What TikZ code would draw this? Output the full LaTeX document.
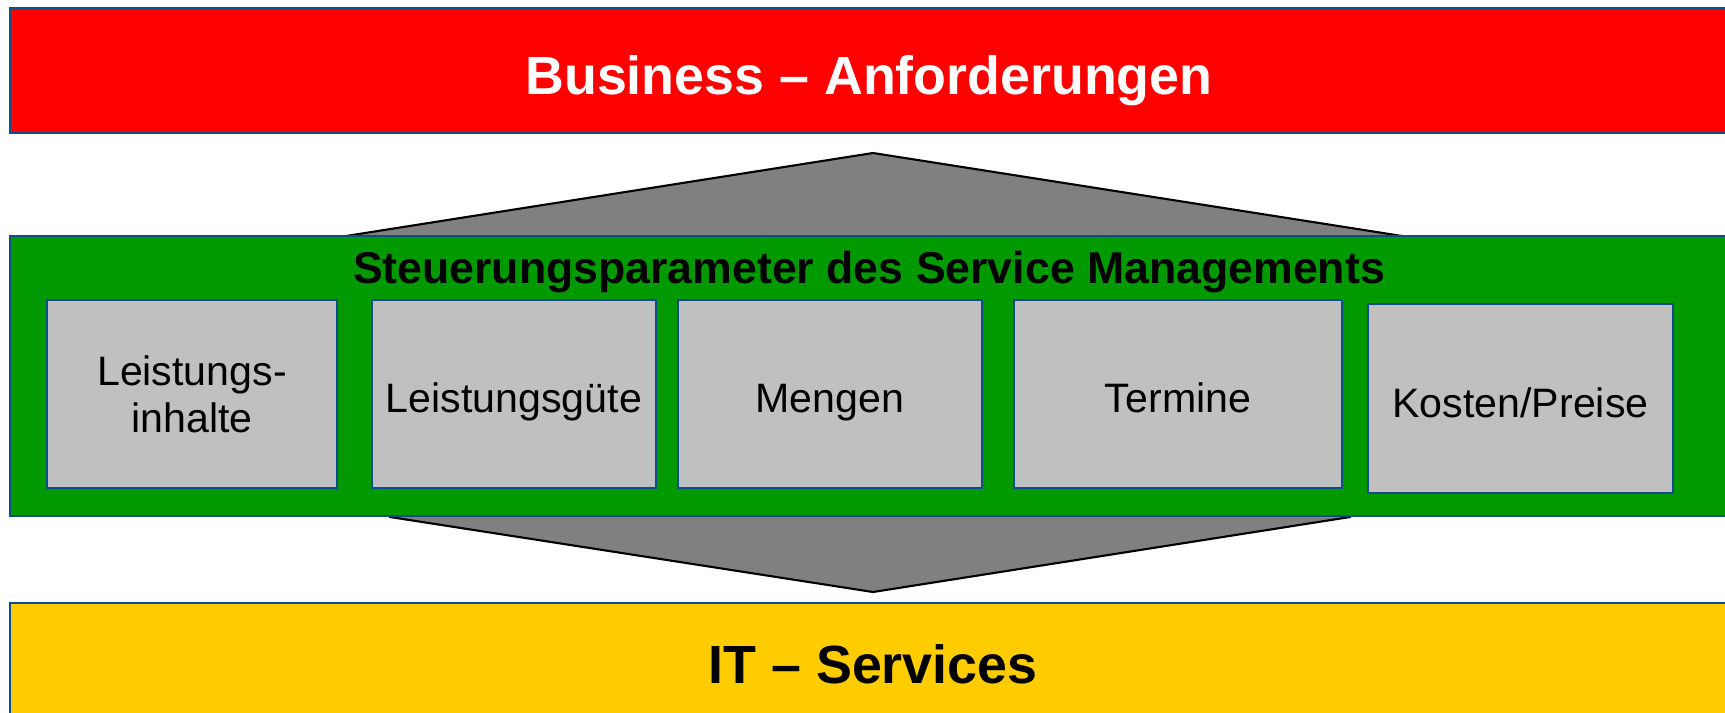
\documentclass[tikz,border=0pt]{standalone}
\usepackage{fontspec}
\setmainfont{Liberation Sans}
\usepackage{xcolor}
\usetikzlibrary{calc}
\definecolor{bizred}{HTML}{FF0000}
\definecolor{smgreen}{HTML}{009900}
\definecolor{itgold}{HTML}{FFCC00}
\definecolor{parbg}{HTML}{C0C0C0}
\definecolor{arrowgr}{HTML}{808080}
\definecolor{edgeb}{HTML}{0F4C8C}
\tikzset{
  band/.style={draw=edgeb,line width=0.8pt,inner sep=0pt,minimum width=17.2cm},
  box/.style={draw=edgeb,line width=0.8pt,fill=parbg,align=center,inner sep=2pt,minimum height=1.88cm,font=\fontsize{11.7}{13.3}\selectfont},
  oneline/.style={text height=11pt,text depth=0.2pt},
  big/.style={anchor=base,font=\fontsize{15.3}{18}\selectfont\bfseries}
}

\begin{document}
\begin{tikzpicture}[x=0.1mm,y=-0.1mm]
\clip (0,0) rectangle (1725,712);
% double arrow behind the green band
\coordinate (tipup) at (873,153);
\coordinate (tipdn) at (873,592);
\draw[black,line width=0.6pt,fill=arrowgr] (tipup) -- (346,236) -- (390,517) -- (tipdn) -- (1350,517) -- (1402,236) -- cycle;
% bands
\node[band,fill=bizred,minimum height=1.25cm] (biz) at (870,70.5) {};
\node[big,text=white] (biztxt) at (869,94) {Business – Anforderungen};
\node[band,fill=smgreen,minimum height=2.8cm] (ctrl) at (870,376) {};
\node[anchor=base,font=\fontsize{12.7}{15}\selectfont\bfseries] (ctrltxt) at (869,283) {Steuerungsparameter des Service Managements};
\node[band,fill=itgold,minimum height=1.22cm] (its) at (870,664) {};
\node[big] (itstxt) at (873,683) {IT – Services};
% parameter boxes
\node[box,minimum width=2.90cm] (inh) at (192,394) {Leistungs-\\inhalte};
\node[box,oneline,minimum width=2.84cm] (gue) at (514,394) {Leistungsgüte};
\node[box,oneline,minimum width=3.04cm] (men) at (830,394) {Mengen};
\node[box,oneline,minimum width=3.28cm] (ter) at (1178,394) {Termine};
\node[box,oneline,minimum width=3.05cm,minimum height=1.89cm] (kos) at (1520.5,398.5) {Kosten/Preise};
\end{tikzpicture}
\end{document}
